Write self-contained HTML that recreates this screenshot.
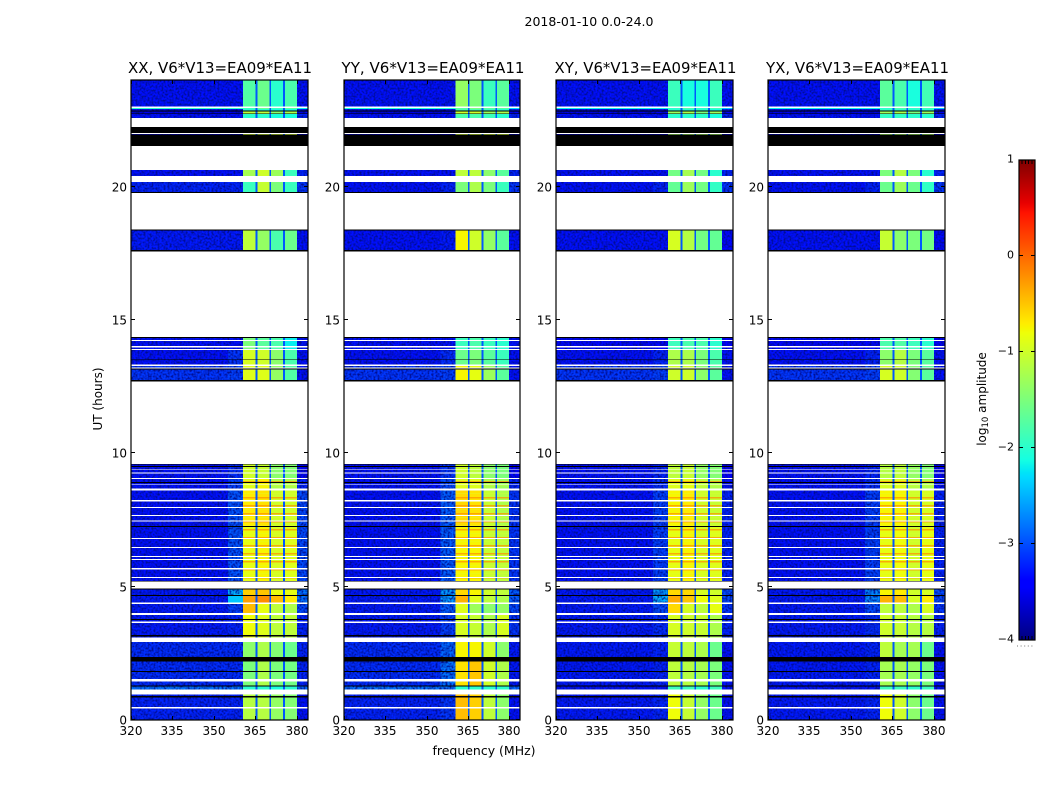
<!DOCTYPE html>
<html>
<head>
<meta charset="utf-8">
<title>2018-01-10 0.0-24.0</title>
<style>
html,body{margin:0;padding:0;background:#fff;}
svg{display:block;}
text{font-family:"DejaVu Sans","Liberation Sans",sans-serif;fill:#000;}
.tick{font-size:12px;}
.title{font-size:15px;text-anchor:middle;}
</style>
</head>
<body>
<svg id="fig" xmlns="http://www.w3.org/2000/svg" width="1050" height="800" viewBox="0 0 1050 800">
<defs>
<filter id="noise" x="0" y="0" width="1" height="1" color-interpolation-filters="sRGB">
<feTurbulence type="fractalNoise" baseFrequency="0.5" numOctaves="2" seed="3" result="t"/>
<feColorMatrix in="t" type="matrix" values="0 0 0 0 0  0 0 0 0 0.05  0 0 0 0 0.55  2.6 0 0 0 -1.0" result="d"/>
<feComposite in="d" in2="SourceAlpha" operator="in" result="c"/>
<feMerge><feMergeNode in="SourceGraphic"/><feMergeNode in="c"/></feMerge>
</filter>
<pattern id="stripes" width="9" height="8" patternUnits="userSpaceOnUse">
<rect x="0" y="1" width="9" height="1.5" fill="#ff8a00" opacity=".7"/>
<rect x="0" y="5" width="9" height="1" fill="#d8ff30" opacity=".35"/>
</pattern>
</defs>

<text x="589" y="26" font-size="12" text-anchor="middle" textLength="129" lengthAdjust="spacingAndGlyphs">2018-01-10 0.0-24.0</text>

<text class="title" x="220" y="73" textLength="184" lengthAdjust="spacingAndGlyphs">XX, V6*V13=EA09*EA11</text>
<text class="title" x="433" y="73" textLength="183" lengthAdjust="spacingAndGlyphs">YY, V6*V13=EA09*EA11</text>
<text class="title" x="645.5" y="73" textLength="182" lengthAdjust="spacingAndGlyphs">XY, V6*V13=EA09*EA11</text>
<text class="title" x="857.5" y="73" textLength="183" lengthAdjust="spacingAndGlyphs">YX, V6*V13=EA09*EA11</text>

<text font-size="12" text-anchor="middle" transform="translate(102,399) rotate(-90)">UT (hours)</text>
<text font-size="12" text-anchor="middle" x="484" y="755" textLength="103" lengthAdjust="spacingAndGlyphs">frequency (MHz)</text>
<text font-size="12" text-anchor="middle" transform="translate(986,399) rotate(-90)">log<tspan font-size="8.5" dy="2">10</tspan><tspan dy="-2"> amplitude</tspan></text>

<g id="panels"></g>
<g id="colorbar"></g>
<line x1="1017" y1="646" x2="1035" y2="646" stroke="#777" stroke-width="1" stroke-dasharray="1 2.6"/>
</svg>

<script>
// Frequency bands (MHz) across the heatmap and which amplitude column each uses ('gap' = band edge notch)
const bandEdges = [320, 355, 360.5, 365, 365.7, 370, 370.7, 375, 375.7, 380, 384];
const bandColumns = [0, 1, 2, 'gap', 3, 'gap', 4, 'gap', 5, 6];
const gapLevel = -2.95;

// Scans: [start hour, end hour, section index into the amplitude tables]
const scans = [
[23.0,24.0,0],[22.91,22.95,1],[22.86,22.91,3],[22.74,22.82,2],[22.575,22.72,3],[21.93,21.955,4],
[20.4,20.625,5],[19.8,20.175,6],[17.625,18.35,7],
[14.25,14.325,8],[14.03,14.21,8],[13.91,13.97,8],[13.52,13.875,9],[13.33,13.5,9],
[13.22,13.275,10],[12.75,13.14,10],
[9.525,9.58,11],[9.39,9.49,11],[9.28,9.375,11],[9.075,9.24,11],[8.925,9.04,12],
[8.83,8.89,12],[8.68,8.81,12],[8.25,8.6,13],[7.99,8.19,13],[7.69,7.95,13],[7.48,7.65,13],[7.275,7.44,13],
[6.825,7.23,14],[6.49,6.79,14],[6.15,6.45,14],[6.04,6.11,14],[5.7,6.0,14],[5.36,5.64,14],[5.22,5.325,14],
[4.69,4.9,15],[4.4,4.65,16],[4.02,4.35,17],[3.79,3.94,18],[3.69,3.75,18],[3.18,3.64,18],[3.1,3.14,18],
[2.36,2.925,19],[1.84,2.19,20],[1.54,1.8,20],[1.3,1.45,20],[1.14,1.26,21],[0.9,0.96,22],[0.48,0.84,22],[0,0.44,22]
];

// Fully flagged (black) time ranges in hours
const flagged = [
[22.82,22.86],[22.72,22.74],[22.01,22.24],[21.525,21.975],[19.76,19.8],[18.35,18.39],[17.57,17.625],
[14.325,14.36],[13.5,13.52],[13.15,13.18],[12.69,12.75],
[9.58,9.6],[9.49,9.525],[8.89,8.925],[7.23,7.275],[5.19,5.22],[4.9,4.94],[4.65,4.69],
[3.75,3.79],[3.14,3.18],[2.19,2.36],[1.8,1.84],[1.26,1.3],[0.84,0.9]
];

// Sections whose bright blocks show fine orange time striping
const stripedSections = [12, 13, 14];

// log10 amplitude by section: [background, shoulder, block1, block2, block3, block4, edge]
const xxAmps = [
[-3.3,-3.3,-1.75,-1.6,-2.0,-1.8,-3.3],[-2.0,-2.0,-1.9,-1.6,-1.9,-1.7,-2.2],[-3.5,-3.5,-1.1,-1.1,-1.4,-1.2,-3.4],[-3.3,-3.3,-2.0,-2.0,-2.1,-2.1,-3.2],
[-3.6,-3.6,-1.0,-1.0,-1.0,-1.0,-3.6],[-3.3,-3.3,-1.25,-1.0,-1.3,-1.9,-3.2],[-3.2,-3.2,-1.9,-1.05,-1.5,-1.9,-3.1],[-3.25,-3.25,-1.1,-1.35,-1.8,-1.6,-3.3],
[-3.3,-3.3,-1.5,-1.7,-1.8,-2.2,-3.3],[-3.3,-3.1,-0.95,-1.0,-1.4,-1.8,-3.3],[-3.1,-3.05,-0.9,-0.9,-1.35,-1.75,-3.3],[-3.3,-3.15,-1.0,-1.05,-1.4,-1.45,-3.4],
[-3.3,-3.05,-0.9,-0.75,-1.2,-1.2,-3.2],[-3.3,-2.95,-0.7,-0.65,-1.0,-1.0,-3.0],[-3.3,-2.95,-0.85,-0.75,-0.95,-0.9,-3.0],[-3.25,-2.5,-0.55,-0.5,-0.85,-0.85,-2.8],
[-3.25,-2.4,-0.3,-0.2,-0.45,-0.7,-2.8],[-3.25,-3.05,-0.45,-0.85,-1.1,-1.2,-3.0],[-3.25,-3.2,-0.8,-0.9,-1.1,-1.1,-3.2],[-3.15,-3.15,-1.4,-1.2,-1.45,-1.6,-3.2],
[-3.15,-3.15,-1.5,-1.2,-1.5,-1.55,-3.2],[-2.8,-2.8,-2.0,-2.0,-2.1,-2.0,-2.85],[-3.2,-3.2,-1.15,-1.15,-1.35,-1.45,-3.3]
];
const yyAmps = [
[-3.3,-3.3,-1.35,-1.5,-1.9,-1.7,-3.3],[-2.1,-2.1,-1.7,-1.5,-1.7,-1.7,-2.3],[-3.5,-3.5,-1.0,-1.0,-1.3,-1.2,-3.4],[-3.3,-3.3,-1.8,-1.8,-1.9,-2.0,-3.2],
[-3.6,-3.6,-1.0,-1.0,-1.0,-1.0,-3.6],[-3.3,-3.3,-1.1,-1.1,-1.4,-1.7,-3.2],[-3.3,-3.2,-1.5,-1.2,-1.5,-1.9,-3.1],[-3.3,-3.25,-0.75,-1.0,-1.35,-1.7,-3.3],
[-3.3,-3.3,-1.9,-1.8,-1.9,-2.0,-3.3],[-3.3,-3.15,-1.6,-1.5,-1.7,-1.9,-3.3],[-3.1,-3.05,-0.75,-0.85,-1.3,-1.7,-3.3],[-3.3,-3.1,-1.0,-1.1,-1.4,-1.5,-3.4],
[-3.3,-3.0,-0.9,-0.9,-1.2,-1.3,-3.2],[-3.3,-2.9,-0.6,-0.65,-1.05,-1.2,-3.1],[-3.3,-2.9,-0.75,-0.75,-1.05,-1.1,-3.1],[-3.25,-2.6,-0.6,-0.75,-1.0,-1.1,-2.9],
[-3.25,-2.6,-0.4,-0.9,-1.1,-1.2,-2.9],[-3.25,-2.9,-0.9,-1.3,-1.4,-1.35,-3.0],[-3.25,-3.05,-0.95,-1.05,-1.2,-0.95,-3.1],[-3.15,-2.85,-0.75,-0.75,-1.0,-1.4,-3.25],
[-3.15,-2.8,-0.65,-0.5,-1.0,-1.2,-3.25],[-2.8,-2.8,-2.0,-2.0,-2.0,-2.0,-2.85],[-3.2,-3.1,-0.45,-0.55,-1.1,-1.4,-3.3]
];
const xyAmps = [
[-3.3,-3.3,-1.9,-2.1,-2.1,-1.9,-3.3],[-2.2,-2.2,-2.0,-1.8,-2.0,-1.9,-2.4],[-3.5,-3.5,-1.3,-1.2,-1.5,-1.3,-3.4],[-3.3,-3.3,-2.0,-2.0,-2.0,-2.1,-3.2],
[-3.6,-3.6,-1.3,-1.3,-1.3,-1.3,-3.6],[-3.3,-3.3,-1.55,-1.25,-1.55,-2.0,-3.2],[-3.3,-3.2,-1.65,-1.3,-1.55,-1.95,-3.1],[-3.3,-3.3,-0.95,-1.15,-1.55,-1.65,-3.35],
[-3.35,-3.35,-1.9,-1.8,-1.8,-2.0,-3.4],[-3.3,-3.2,-1.2,-1.2,-1.5,-1.8,-3.3],[-3.1,-3.05,-1.0,-1.0,-1.4,-1.7,-3.3],[-3.3,-3.2,-1.1,-1.05,-1.35,-1.45,-3.4],
[-3.3,-3.15,-0.9,-0.85,-1.1,-1.2,-3.3],[-3.3,-3.05,-0.75,-0.7,-1.0,-1.05,-3.2],[-3.3,-3.05,-0.85,-0.75,-0.95,-0.9,-3.2],[-3.25,-2.6,-0.6,-0.6,-0.95,-1.0,-3.0],
[-3.25,-2.5,-0.35,-0.5,-0.8,-0.9,-3.0],[-3.25,-3.0,-0.6,-0.95,-1.1,-0.85,-3.1],[-3.25,-3.15,-0.95,-1.0,-1.05,-1.2,-3.2],[-3.25,-3.2,-1.05,-1.1,-1.2,-1.6,-3.3],
[-3.25,-3.2,-1.1,-1.15,-1.25,-1.5,-3.3],[-3.3,-3.3,-1.9,-1.9,-2.0,-1.9,-3.3],[-3.25,-3.2,-0.8,-1.05,-1.35,-1.6,-3.3]
];
const yxAmps = [
[-3.3,-3.3,-1.7,-1.8,-2.1,-1.85,-3.3],[-2.2,-2.2,-2.0,-1.8,-2.0,-1.9,-2.4],[-3.5,-3.5,-1.3,-1.2,-1.5,-1.3,-3.4],[-3.3,-3.3,-1.95,-1.95,-2.0,-2.0,-3.2],
[-3.6,-3.6,-1.3,-1.3,-1.3,-1.3,-3.6],[-3.3,-3.3,-1.5,-1.15,-1.5,-2.0,-3.2],[-3.3,-3.2,-1.6,-1.3,-1.6,-1.95,-3.1],[-3.3,-3.3,-1.05,-1.4,-1.5,-1.55,-3.35],
[-3.35,-3.35,-1.8,-1.75,-1.9,-2.0,-3.4],[-3.3,-3.2,-1.4,-1.15,-1.5,-1.7,-3.3],[-3.1,-3.05,-0.95,-1.0,-1.45,-1.7,-3.3],[-3.3,-3.2,-1.15,-1.1,-1.35,-1.45,-3.4],
[-3.3,-3.15,-0.95,-0.9,-1.15,-1.2,-3.3],[-3.3,-3.05,-0.75,-0.75,-1.0,-0.95,-3.2],[-3.3,-3.05,-0.85,-0.8,-1.0,-0.85,-3.2],[-3.25,-2.7,-0.75,-0.7,-1.0,-0.95,-3.0],
[-3.25,-2.7,-0.4,-0.45,-0.95,-0.7,-3.0],[-3.25,-3.0,-1.1,-1.1,-1.2,-0.95,-3.1],[-3.25,-3.15,-1.0,-1.05,-1.15,-1.15,-3.2],[-3.25,-3.2,-1.1,-1.25,-1.25,-1.6,-3.3],
[-3.25,-3.2,-1.25,-1.25,-1.35,-1.5,-3.3],[-3.3,-3.3,-1.9,-1.9,-2.0,-1.9,-3.3],[-3.25,-3.2,-0.8,-1.0,-1.4,-1.6,-3.3]
];

// Axis ticks
const xTicks = [320, 335, 350, 365, 380];
const xTickLabels = ['320', '335', '350', '365', '380'];
const yTicks = [0, 5, 10, 15, 20];
const yTickLabels = ['0', '5', '10', '15', '20'];
const cbarTicks = [1, 0, -1, -2, -3, -4];
const cbarTickLabels = ['1', '0', '\u22121', '\u22122', '\u22123', '\u22124'];

const panelNames = ['xx', 'yy', 'xy', 'yx'];
const panelAmps = [xxAmps, yyAmps, xyAmps, yxAmps];

// Layout and scales
const panelLefts = [131, 344, 556, 768];
const panelWidths = [177, 176, 177, 177];
const plotTop = 80, plotBottom = 720;
const freqMin = 320, freqMax = 384, hourMin = 0, hourMax = 24, ampMin = -4, ampMax = 1;
const cbX = 1019, cbW = 16, cbTop = 160, cbBottom = 640;

function xScale(panel, f) { return panelLefts[panel] + (f - freqMin) / (freqMax - freqMin) * panelWidths[panel]; }
function yScale(h) { return plotBottom - (h - hourMin) / (hourMax - hourMin) * (plotBottom - plotTop); }
function cbScale(v) { return cbBottom - (v - ampMin) / (ampMax - ampMin) * (cbBottom - cbTop); }

const SVGNS = 'http://www.w3.org/2000/svg';
function mk(tag, parent) { const e = document.createElementNS(SVGNS, tag); parent.appendChild(e); return e; }
function box(e, x, y, w, h, fill) {
  e.setAttribute('x', x); e.setAttribute('y', y); e.setAttribute('width', w); e.setAttribute('height', h); e.setAttribute('fill', fill);
  e.setAttribute('shape-rendering', 'crispEdges');
}
function seg(e, x1, y1, x2, y2) {
  e.setAttribute('x1', x1); e.setAttribute('y1', y1); e.setAttribute('x2', x2); e.setAttribute('y2', y2);
  e.setAttribute('stroke', '#000'); e.setAttribute('stroke-width', '1'); e.setAttribute('shape-rendering', 'crispEdges');
}
function interp(pts, t) {
  for (let i = 1; i < pts.length; i++) {
    if (t <= pts[i][0]) { const a = pts[i - 1], b = pts[i]; return a[1] + (b[1] - a[1]) * (t - a[0]) / (b[0] - a[0]); }
  }
  return pts[pts.length - 1][1];
}
const jetR = [[0,0],[0.35,0],[0.66,1],[0.89,1],[1,0.5]];
const jetG = [[0,0],[0.125,0],[0.375,1],[0.64,1],[0.91,0],[1,0]];
const jetB = [[0,0.5],[0.11,1],[0.34,1],[0.65,0],[1,0]];
function jet(v) {
  const t = Math.max(0, Math.min(1, (v - ampMin) / (ampMax - ampMin)));
  return 'rgb(' + Math.round(255 * interp(jetR, t)) + ',' + Math.round(255 * interp(jetG, t)) + ',' + Math.round(255 * interp(jetB, t)) + ')';
}

const panelsRoot = document.getElementById('panels');
panelNames.forEach(function (name, p) {
  const g = mk('g', panelsRoot);
  
  
  const amps = panelAmps[p];

  flagged.forEach(function (f) {
    const r = mk('rect', g);
    box(r, xScale(p, freqMin), yScale(f[1]), panelWidths[p], yScale(f[0]) - yScale(f[1]), '#000');
    
    
  });

  scans.forEach(function (s) {
    const row = amps[s[2]];
    const y0 = yScale(s[1]), y1 = yScale(s[0]);
    bandColumns.forEach(function (c, b) {
      const v = c === 'gap' ? gapLevel : row[c];
      const x0 = xScale(p, bandEdges[b]), x1 = xScale(p, bandEdges[b + 1]);
      const r = mk('rect', g);
      box(r, x0, y0, x1 - x0, y1 - y0, jet(v));
      if (v < -2.4 && c !== 'gap') {
        r.setAttribute('filter', 'url(#noise)');
      }
      
      
      if (stripedSections.indexOf(s[2]) >= 0 && c !== 'gap' && c >= 2 && c <= 5) {
        const n = mk('rect', g);
        box(n, x0, y0, x1 - x0, y1 - y0, 'url(#stripes)');
        
        
      }
    });
  });

  const left = panelLefts[p], right = left + panelWidths[p];
  const frame = mk('rect', g);
  frame.setAttribute('x', left); frame.setAttribute('y', plotTop);
  frame.setAttribute('width', panelWidths[p]); frame.setAttribute('height', plotBottom - plotTop);
  frame.setAttribute('fill', 'none'); frame.setAttribute('stroke', '#000'); frame.setAttribute('stroke-width', '1.2');
  
  

  xTicks.forEach(function (t, i) {
    const x = Math.round(xScale(p, t)) + 0.5;
    const a = mk('line', g); seg(a, x, plotBottom, x, plotBottom - 4);
    
    
    const b = mk('line', g); seg(b, x, plotTop, x, plotTop + 4);
    
    
    const l = mk('text', g);
    l.setAttribute('class', 'tick'); l.setAttribute('x', x - 0.5); l.setAttribute('y', 735); l.setAttribute('text-anchor', 'middle');
    l.textContent = xTickLabels[i];
    
    
  });
  yTicks.forEach(function (t, i) {
    const y = Math.round(yScale(t)) - 0.5;
    const a = mk('line', g); seg(a, left, y, left + 4, y);
    
    
    const b = mk('line', g); seg(b, right, y, right - 4, y);
    
    
    const l = mk('text', g);
    l.setAttribute('class', 'tick'); l.setAttribute('x', left - 4); l.setAttribute('y', y + 5); l.setAttribute('text-anchor', 'end');
    l.textContent = yTickLabels[i];
    
    
  });
});

// Colorbar
const cb = document.getElementById('colorbar');
for (let py = cbTop; py < cbBottom; py++) {
  const v = ampMax - (py + 0.5 - cbTop) / (cbBottom - cbTop) * (ampMax - ampMin);
  const r = mk('rect', cb);
  box(r, cbX, py, cbW, 1, jet(v));
  
  
}
const cbFrame = mk('rect', cb);
cbFrame.setAttribute('x', cbX); cbFrame.setAttribute('y', cbTop); cbFrame.setAttribute('width', cbW); cbFrame.setAttribute('height', cbBottom - cbTop);
cbFrame.setAttribute('fill', 'none'); cbFrame.setAttribute('stroke', '#000'); cbFrame.setAttribute('stroke-width', '1.2');


cbarTicks.forEach(function (t, i) {
  const y = Math.min(cbBottom, Math.max(cbTop, Math.round(cbScale(t)))) - 0.5;
  if (t !== ampMin && t !== ampMax) {
    const a = mk('line', cb); seg(a, cbX, y, cbX + 4, y);
    
    
    const b = mk('line', cb); seg(b, cbX + cbW, y, cbX + cbW - 4, y);
    
    
  }
  const l = mk('text', cb);
  l.setAttribute('class', 'tick');
  l.setAttribute('x', cbX - 5); l.setAttribute('y', y + 3); l.setAttribute('text-anchor', 'end');
  l.setAttribute('style', 'font-size:11px');
  l.textContent = cbarTickLabels[i];
  
  
});
for (let k = 1; k <= 4; k++) {
  const x = cbX + k * cbW / 5;
  const a = mk('line', cb); seg(a, x, cbBottom, x, cbBottom - 4);
  
  
  const b = mk('line', cb); seg(b, x, cbTop, x, cbTop + 4);
  
  
}
</script>
</body>
</html>
